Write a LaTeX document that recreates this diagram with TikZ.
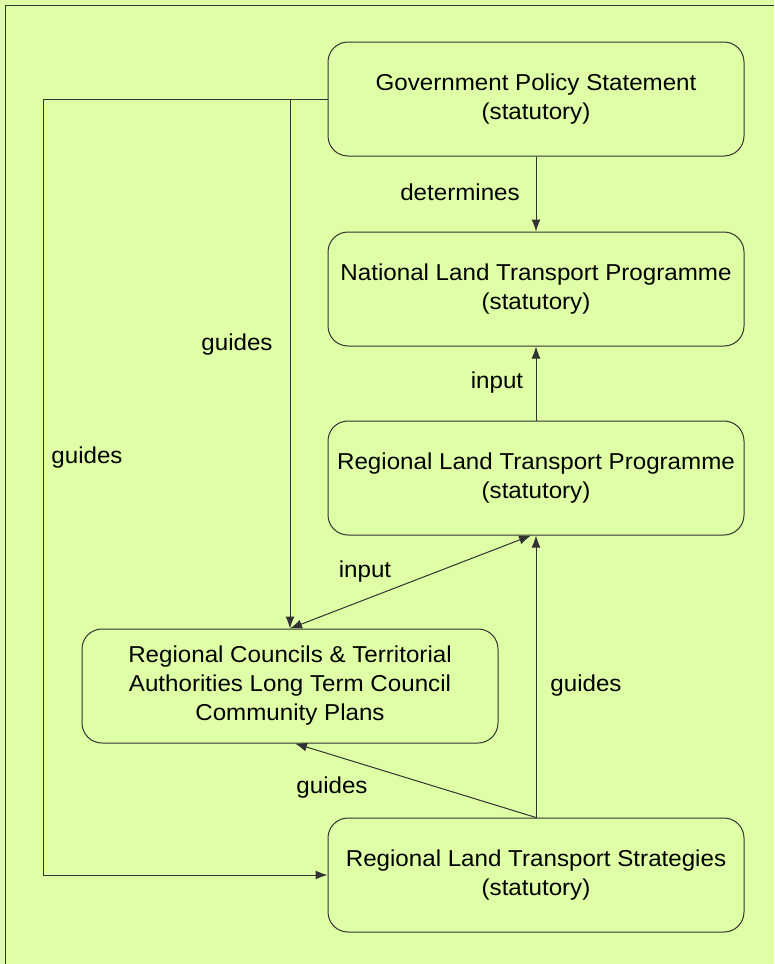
\documentclass[tikz,border=0pt]{standalone}
\usepackage{fontspec}
\setmainfont{Liberation Sans}[FakeStretch=1.05]
\usetikzlibrary{arrows.meta}
\definecolor{bgfill}{RGB}{223,255,166}
\definecolor{lineclr}{RGB}{50,50,50}
\tikzset{every picture/.style={line width=1pt}}
\tikzset{
  box/.style={draw=lineclr, rounded corners=20pt, minimum width=416pt, minimum height=114pt, align=center, inner sep=0pt, font=\fontsize{23}{29}\selectfont},
  lbl/.style={inner sep=0pt, font=\fontsize{23}{29}\selectfont},
  arr/.style={draw=lineclr, -{Latex[length=12pt,width=9pt]}},
  darr/.style={draw=lineclr, {Latex[length=12pt,width=9pt]}-{Latex[length=12pt,width=9pt]}}
}

\begin{document}
\begin{tikzpicture}[x=1pt,y=1pt,yscale=-1,xscale=1]
\useasboundingbox (0,0) rectangle (774,964);
\fill[bgfill] (0,0) rectangle (774,964);
\draw[lineclr] (5,964) -- (5,5) -- (774,5);
% boxes
\node[box] (gps) at (536,99) {Government Policy Statement\\(statutory)};
\node[box] (nltp) at (536,289) {National Land Transport Programme\\(statutory)};
\node[box] (rltp) at (536,478) {Regional Land Transport Programme\\(statutory)};
\node[box] (rc) at (290,686) {Regional Councils \& Territorial\\Authorities Long Term Council\\Community Plans};
\node[box] (rlts) at (536,875) {Regional Land Transport Strategies\\(statutory)};
\coordinate (lft) at (43,99);
% connectors
\draw[arr] (gps.south) -- (nltp.north);
\draw[arr] (rltp.north) -- (nltp.south);
\draw[arr] (rlts.north) -- (rltp.south);
\draw[darr] (rc.north) -- ([xshift=-5pt]rltp.south);
\draw[arr] (gps.west) -| (rc.north);
\draw[arr] (gps.west) -- (lft) |- (rlts.west);
\draw[arr] (rlts.north) -- ([xshift=5pt]rc.south);
% labels
\node[lbl] (l1) at (460,192) {determines};
\node[lbl] (l2) at (497,383) {input};
\node[lbl] (l3) at (237,345) {guides};
\node[lbl] (l4) at (87,458) {guides};
\node[lbl] (l5) at (365,572) {input};
\node[lbl] (l6) at (586,686) {guides};
\node[lbl] (l7) at (332,788) {guides};
\end{tikzpicture}
\end{document}
